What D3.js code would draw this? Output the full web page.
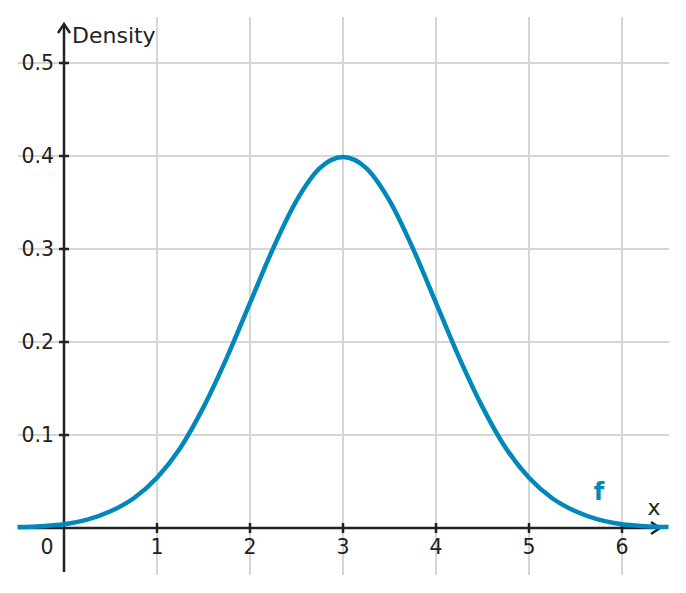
<!DOCTYPE html>
<html>
<head>
<meta charset="utf-8">
<script src="https://cdn.jsdelivr.net/npm/d3@7"></script>
<style>
  body { margin: 0; background: #fff; }
  text { font-family: "DejaVu Sans", sans-serif; fill: #222; }
</style>
</head>
<body>
<div id="chart"></div>
<script>
// values
const xs = [-0.5, -0.25, 0, 0.25, 0.5, 0.75, 1, 1.25, 1.5, 1.75, 2, 2.25, 2.5, 2.75, 3,
            3.25, 3.5, 3.75, 4, 4.25, 4.5, 4.75, 5, 5.25, 5.5, 5.75, 6, 6.25, 6.5];
const density = [0.001, 0.002, 0.004, 0.009, 0.018, 0.032, 0.054, 0.086, 0.130, 0.183, 0.242, 0.301, 0.352, 0.387, 0.399,
                 0.387, 0.352, 0.301, 0.242, 0.183, 0.130, 0.086, 0.054, 0.032, 0.018, 0.009, 0.004, 0.002, 0.001];
const xTicks = [0, 1, 2, 3, 4, 5, 6];
const yTicks = [0.1, 0.2, 0.3, 0.4, 0.5];

const W = 686, H = 593;
const blue = "#0088bb";

const svg = d3.select("#chart").append("svg")
    .attr("width", W)
    .attr("height", H);

const x = d3.scaleLinear().domain([-0.5, 6.5]).range([17.5, 668.5]);
const y = d3.scaleLinear().domain([0, 0.5]).range([528, 63]);

// grid
svg.append("g").selectAll("line")
    .data(xTicks.filter(d => d !== 0))
    .join("line")
    .attr("x1", d => x(d)).attr("x2", d => x(d))
    .attr("y1", 17).attr("y2", 575)
    .attr("stroke", "#d6d6d6").attr("stroke-width", 2);

svg.append("g").selectAll("line")
    .data(yTicks)
    .join("line")
    .attr("x1", 18).attr("x2", 669)
    .attr("y1", d => y(d)).attr("y2", d => y(d))
    .attr("stroke", "#d6d6d6").attr("stroke-width", 2);

// axes
const axisColor = "#222";
svg.append("line")
    .attr("x1", 18).attr("x2", 660)
    .attr("y1", y(0)).attr("y2", y(0))
    .attr("stroke", axisColor).attr("stroke-width", 2.5);
svg.append("path")
    .attr("d", `M${651},${y(0) - 6} L${660},${y(0)} L${651},${y(0) + 6}`)
    .attr("fill", "none").attr("stroke", axisColor).attr("stroke-width", 2.5);

svg.append("line")
    .attr("x1", x(0)).attr("x2", x(0))
    .attr("y1", 24).attr("y2", 572)
    .attr("stroke", axisColor).attr("stroke-width", 2.5);
svg.append("path")
    .attr("d", `M${x(0) - 6},${33} L${x(0)},${24} L${x(0) + 6},${33}`)
    .attr("fill", "none").attr("stroke", axisColor).attr("stroke-width", 2.5);

// ticks
svg.append("g").selectAll("line")
    .data(xTicks.filter(d => d !== 0))
    .join("line")
    .attr("x1", d => x(d)).attr("x2", d => x(d))
    .attr("y1", y(0) - 5).attr("y2", y(0) + 5)
    .attr("stroke", axisColor).attr("stroke-width", 2.5);
svg.append("g").selectAll("line")
    .data(yTicks)
    .join("line")
    .attr("x1", x(0) - 5).attr("x2", x(0) + 5)
    .attr("y1", d => y(d)).attr("y2", d => y(d))
    .attr("stroke", axisColor).attr("stroke-width", 2.5);

// tick labels
svg.append("g").selectAll("text")
    .data(xTicks)
    .join("text")
    .attr("x", d => d === 0 ? x(0) - 17 : x(d))
    .attr("y", y(0) + 26)
    .attr("text-anchor", "middle")
    .style("font-size", "20.5px")
    .text(d => d);

svg.append("g").selectAll("text")
    .data(yTicks)
    .join("text")
    .attr("x", 54)
    .attr("y", d => y(d) + 7)
    .attr("text-anchor", "end")
    .style("font-size", "20.5px")
    .text(d => d3.format(".1f")(d));

svg.append("text")
    .attr("x", 72).attr("y", 43)
    .style("font-size", "22px")
    .text("Density");

svg.append("text")
    .attr("x", 654).attr("y", 515)
    .attr("text-anchor", "middle")
    .style("font-size", "22px")
    .text("x");

// curve
const line = d3.line()
    .x((d, i) => x(xs[i]))
    .y(d => y(d))
    .curve(d3.curveMonotoneX);

svg.append("path")
    .datum(density)
    .attr("d", line)
    .attr("fill", "none")
    .attr("stroke", blue)
    .attr("stroke-width", 4.5);

svg.append("text")
    .attr("x", 599).attr("y", 500)
    .attr("text-anchor", "middle")
    .style("font-size", "24px")
    .style("font-weight", "bold")
    .style("fill", blue)
    .text("f");
</script>
</body>
</html>
